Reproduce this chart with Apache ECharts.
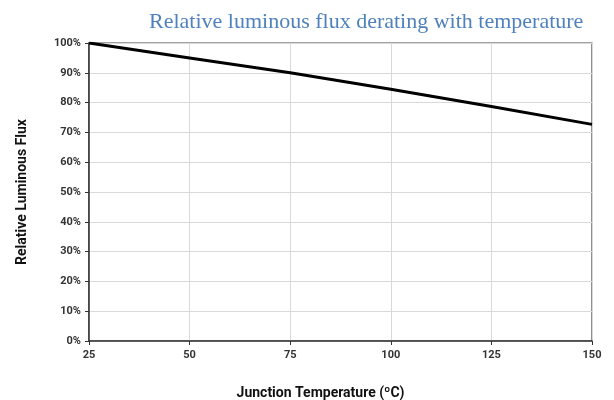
<!DOCTYPE html>
<html><head><meta charset="utf-8">
<script src="https://cdn.jsdelivr.net/npm/echarts@6/dist/echarts.min.js"></script>
<style>html,body{margin:0;padding:0;background:#fff}#c{width:614px;height:400px}</style>
</head><body><div id="c"></div>
<script>
const titleText = 'Relative luminous flux derating with temperature';
const xName = 'Junction Temperature (ºC)';
const yName = 'Relative Luminous Flux';
const temps = [25, 50, 75, 100, 125, 150];
const flux = [100, 95, 90, 84.5, 78.7, 72.7];

const chart = echarts.init(document.getElementById('c'), null, {renderer: 'canvas'});
const lblFont = {fontFamily: 'Roboto', fontWeight: 'bold', fontSize: 11, color: '#333'};
chart.setOption({
  animation: false,
  title: {
    text: titleText, left: 144, top: 6,
    textStyle: {fontFamily: 'Liberation Serif', fontWeight: 'normal', fontSize: 22, color: '#4f81bd'}
  },
  grid: {left: 89, right: 22, top: 43, bottom: 59, show: true, borderColor: '#444', borderWidth: 1.2,
         backgroundColor: 'transparent', outerBoundsMode: 'none', containLabel: false},
  xAxis: {
    type: 'value', min: 25, max: 150, interval: 25,
    name: xName, nameLocation: 'middle', nameGap: 45,
    nameTextStyle: {fontFamily: 'Roboto', fontWeight: 'bold', fontSize: 14, color: '#111', padding: [0, 40, 0, 0]},
    axisLine: {show: true, lineStyle: {color: '#333', width: 1.5}},
    axisTick: {show: true, length: 4, lineStyle: {color: '#333'}},
    axisLabel: Object.assign({margin: 9}, lblFont),
    splitLine: {show: true, lineStyle: {color: '#d9d9d9', width: 1}}
  },
  yAxis: {
    type: 'value', min: 0, max: 100, interval: 10,
    name: yName, nameLocation: 'middle', nameGap: 60, nameRotate: 90,
    nameTextStyle: {fontFamily: 'Roboto', fontWeight: 'bold', fontSize: 14, color: '#111'},
    axisLine: {show: true, lineStyle: {color: '#333', width: 1.5}},
    axisTick: {show: true, length: 4, lineStyle: {color: '#333'}},
    axisLabel: Object.assign({margin: 8, formatter: '{value}%'}, lblFont),
    splitLine: {show: true, lineStyle: {color: '#d9d9d9', width: 1}}
  },
  series: [{
    type: 'line', data: temps.map((t, i) => [t, flux[i]]),
    showSymbol: false, lineStyle: {color: '#000', width: 3}
  }]
});
</script></body></html>
